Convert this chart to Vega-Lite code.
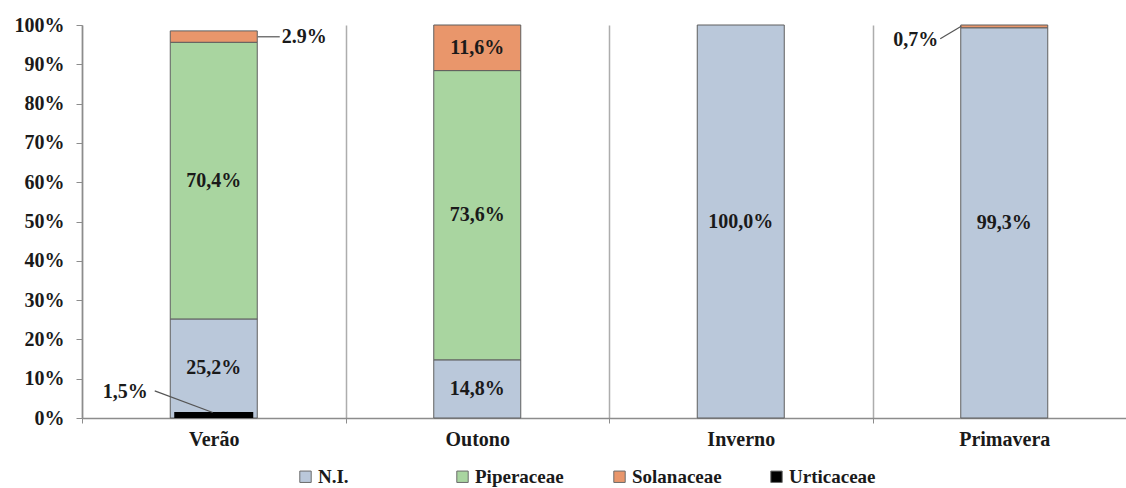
{
  "$schema": "https://vega.github.io/schema/vega-lite/v6.json",
  "width": 1054,
  "height": 393,
  "autosize": {"type": "none"},
  "padding": {"left": 82, "top": 25, "right": 0, "bottom": 70},
  "background": "white",
  "config": {
    "view": {"stroke": null},
    "font": "Liberation Serif, Times New Roman, serif",
    "axisX": {
      "tickBand": "extent",
      "grid": true,
      "gridColor": "#adadad",
      "gridWidth": 1.5,
      "domainColor": "#8c8c8c",
      "domainWidth": 1.5,
      "tickColor": "#8c8c8c",
      "tickSize": 5,
      "labelAngle": 0,
      "labelFont": "Liberation Serif, Times New Roman, serif",
      "labelFontSize": 20,
      "labelFontWeight": "bold",
      "labelColor": "#1a1a1a",
      "labelPadding": 6
    },
    "axisY": {
      "grid": false,
      "domainColor": "#8c8c8c",
      "domainWidth": 1.5,
      "tickColor": "#8c8c8c",
      "tickSize": 6,
      "values": [0, 10, 20, 30, 40, 50, 60, 70, 80, 90, 100],
      "labelExpr": "datum.value + '%'",
      "labelFont": "Liberation Serif, Times New Roman, serif",
      "labelFontSize": 20,
      "labelFontWeight": "bold",
      "labelColor": "#1a1a1a",
      "labelPadding": 12
    },
    "legend": {
      "labelFont": "Liberation Serif, Times New Roman, serif",
      "labelFontSize": 19,
      "labelFontWeight": "bold",
      "labelColor": "#1a1a1a"
    },
    "text": {"font": "Liberation Serif, Times New Roman, serif"}
  },
  "datasets": {
    "shares": [
      {"season": "Verão", "family": "N.I.", "value": 25.2, "label": "25,2%"},
      {"season": "Verão", "family": "Piperaceae", "value": 70.4, "label": "70,4%"},
      {"season": "Verão", "family": "Solanaceae", "value": 2.9, "label": ""},
      {"season": "Verão", "family": "Urticaceae", "value": 1.5, "label": ""},
      {"season": "Outono", "family": "N.I.", "value": 14.8, "label": "14,8%"},
      {"season": "Outono", "family": "Piperaceae", "value": 73.6, "label": "73,6%"},
      {"season": "Outono", "family": "Solanaceae", "value": 11.6, "label": "11,6%"},
      {"season": "Inverno", "family": "N.I.", "value": 100.0, "label": "100,0%"},
      {"season": "Primavera", "family": "N.I.", "value": 99.3, "label": "99,3%"},
      {"season": "Primavera", "family": "Solanaceae", "value": 0.7, "label": ""}
    ],
    "callouts": [
      {"id": "a", "season": "Verão", "label": "2.9%", "ty": 97.0, "l1": 97.0, "l2": 97.0},
      {"id": "b", "season": "Verão", "label": "1,5%", "ty": 6.5, "l1": 6.9, "l2": 1.4},
      {"id": "c", "season": "Primavera", "label": "0,7%", "ty": 96.3, "l1": 96.5, "l2": 99.7}
    ]
  },
  "layer": [
    {
      "data": {"name": "shares"},
      "transform": [
        {"filter": "datum.family !== 'Urticaceae'"},
        {"stack": "value", "groupby": ["season"], "sort": [{"field": "family", "order": "ascending"}], "as": ["y0", "y1"]}
      ],
      "mark": {"type": "bar", "size": 87, "stroke": "#5f5f5f", "strokeWidth": 1},
      "encoding": {
        "x": {"field": "season", "type": "nominal", "sort": ["Verão", "Outono", "Inverno", "Primavera"], "scale": {"paddingInner": 0, "paddingOuter": 0}, "title": null},
        "y": {"field": "y0", "type": "quantitative", "scale": {"domain": [0, 100]}, "title": null},
        "y2": {"field": "y1"},
        "color": {
          "field": "family",
          "type": "nominal",
          "scale": {"domain": ["N.I.", "Piperaceae", "Solanaceae", "Urticaceae"], "range": ["#bac8da", "#a9d5a0", "#e9966b", "#000000"]},
          "legend": {
            "title": null,
            "orient": "none",
            "direction": "horizontal",
            "legendX": 214,
            "legendY": 442,
            "symbolType": "square",
            "symbolSize": 130,
            "symbolStrokeWidth": 1,
            "symbolStrokeColor": "#6b6b6b",
            "gridAlign": "all",
            "columnPadding": 45,
            "labelOffset": 3
          }
        }
      }
    },
    {
      "data": {"name": "shares"},
      "transform": [{"filter": "datum.family === 'Urticaceae'"}],
      "mark": {"type": "bar", "size": 79},
      "encoding": {
        "x": {"field": "season", "type": "nominal", "sort": ["Verão", "Outono", "Inverno", "Primavera"], "title": null},
        "y": {"field": "value", "type": "quantitative", "stack": null, "title": null},
        "color": {"field": "family", "type": "nominal"}
      }
    },
    {
      "data": {"name": "shares"},
      "transform": [
        {"filter": "datum.family !== 'Urticaceae'"},
        {"stack": "value", "groupby": ["season"], "sort": [{"field": "family", "order": "ascending"}], "as": ["y0", "y1"]},
        {"filter": "datum.label !== ''"},
        {"calculate": "(datum.y0 + datum.y1) / 2", "as": "mid"}
      ],
      "mark": {"type": "text", "font": "Liberation Serif, Times New Roman, serif", "fontSize": 20, "fontWeight": "bold", "color": "#1a1a1a"},
      "encoding": {
        "x": {"field": "season", "type": "nominal", "sort": ["Verão", "Outono", "Inverno", "Primavera"], "title": null},
        "y": {"field": "mid", "type": "quantitative", "title": null},
        "text": {"field": "label"}
      }
    },
    {
      "data": {"name": "callouts"},
      "transform": [{"filter": "datum.id === 'a'"}],
      "mark": {"type": "rule", "color": "#555", "strokeWidth": 1.2, "xOffset": 44, "x2Offset": 66},
      "encoding": {
        "x": {"field": "season", "type": "nominal", "sort": ["Verão", "Outono", "Inverno", "Primavera"], "title": null},
        "x2": {"field": "season"},
        "y": {"field": "l1", "type": "quantitative", "title": null},
        "y2": {"field": "l2"}
      }
    },
    {
      "data": {"name": "callouts"},
      "transform": [{"filter": "datum.id === 'b'"}],
      "mark": {"type": "rule", "color": "#555", "strokeWidth": 1.2, "xOffset": -59, "x2Offset": -1},
      "encoding": {
        "x": {"field": "season", "type": "nominal", "sort": ["Verão", "Outono", "Inverno", "Primavera"], "title": null},
        "x2": {"field": "season"},
        "y": {"field": "l1", "type": "quantitative", "title": null},
        "y2": {"field": "l2"}
      }
    },
    {
      "data": {"name": "callouts"},
      "transform": [{"filter": "datum.id === 'c'"}],
      "mark": {"type": "rule", "color": "#555", "strokeWidth": 1.2, "xOffset": -64, "x2Offset": -43},
      "encoding": {
        "x": {"field": "season", "type": "nominal", "sort": ["Verão", "Outono", "Inverno", "Primavera"], "title": null},
        "x2": {"field": "season"},
        "y": {"field": "l1", "type": "quantitative", "title": null},
        "y2": {"field": "l2"}
      }
    },
    {
      "data": {"name": "callouts"},
      "transform": [{"filter": "datum.id === 'a'"}],
      "mark": {"type": "text", "align": "left", "dx": 68, "font": "Liberation Serif, Times New Roman, serif", "fontSize": 20, "fontWeight": "bold", "color": "#1a1a1a"},
      "encoding": {
        "x": {"field": "season", "type": "nominal", "sort": ["Verão", "Outono", "Inverno", "Primavera"], "title": null},
        "y": {"field": "ty", "type": "quantitative", "title": null},
        "text": {"field": "label"}
      }
    },
    {
      "data": {"name": "callouts"},
      "transform": [{"filter": "datum.id !== 'a'"}],
      "mark": {"type": "text", "align": "right", "dx": -66, "font": "Liberation Serif, Times New Roman, serif", "fontSize": 20, "fontWeight": "bold", "color": "#1a1a1a"},
      "encoding": {
        "x": {"field": "season", "type": "nominal", "sort": ["Verão", "Outono", "Inverno", "Primavera"], "title": null},
        "y": {"field": "ty", "type": "quantitative", "title": null},
        "text": {"field": "label"}
      }
    }
  ]
}
